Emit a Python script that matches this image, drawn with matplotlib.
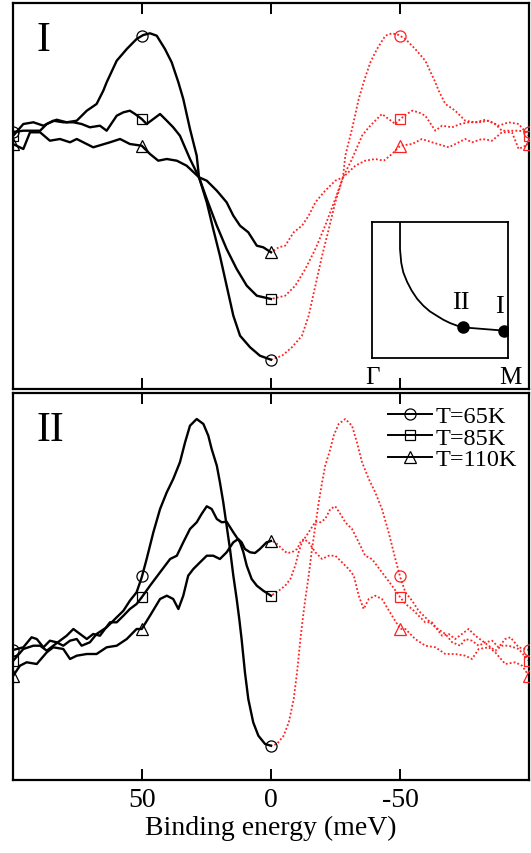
import numpy as np
import matplotlib
matplotlib.use("Agg")
import matplotlib.pyplot as plt
from matplotlib.lines import Line2D

plt.rcParams['font.family'] = ['Liberation Serif', 'DejaVu Serif']

# ---------------- data (binding energy in meV, intensity in arb. units) ----------------
# Panel I (antinodal point)
E_I_65 = [100, 96.0, 89.5, 86.9, 83.1, 79.2, 75.3, 71.4, 67.6, 65.0, 63.7, 59.8, 55.9, 52.1, 49.5,
          46.9, 44.3, 41.1, 38.5, 35.9, 34.0, 31.4, 28.8, 27.9, 24.9, 22.4, 19.8, 17.2, 14.6, 12.0,
          8.1, 4.3, 0]
I_I_65 = [257, 258.3, 258.3, 265, 269.3, 266.7, 268.3, 278.3, 285, 298.3, 306.7, 328.3, 340, 350, 354,
          355.7, 353.3, 340, 326.7, 306.7, 290, 260, 233.3, 211.7, 186.7, 160, 133.3, 103.3, 73.3, 53.3,
          41.7, 33.3, 29.3]

E_I_85 = [100, 96.0, 92.1, 88.2, 84.4, 80.5, 76.6, 73.4, 70.2, 66.3, 63.7, 59.8, 57.2, 54.7, 52.7,
          50.1, 48.2, 45.6, 43.0, 40.4, 37.9, 35.3, 31.4, 27.9, 24.9, 21.0, 17.2, 13.3, 9.4, 5.5, 0]
I_I_85 = [253, 265, 266.7, 263.3, 268.3, 266.7, 266.7, 265, 261.7, 263.3, 258.3, 273.3, 276.7, 278.3, 275,
          270, 265, 270, 275, 268.3, 261.7, 253.3, 230, 211.7, 190, 163.3, 140, 120, 103.3, 93.3, 90]

E_I_110 = [100, 96.0, 93.4, 89.5, 85.7, 81.8, 77.9, 75.3, 68.9, 62.4, 58.5, 54.7, 50.1, 46.9, 43.7,
           40.4, 36.5, 32.7, 27.9, 24.9, 21.0, 17.2, 14.6, 12.0, 8.8, 5.5, 3.0, 0]
I_I_110 = [245, 240, 256.7, 256.7, 248.3, 250, 246.7, 250, 241.7, 246.7, 250, 245, 243.3, 235, 228.3,
           230, 228.3, 223.3, 211.7, 208.3, 198.3, 186.7, 173.3, 163.3, 156.7, 143.3, 141.7, 136.7]

# Panel II
E_II_65 = [100, 96.0, 92.8, 90.8, 88.2, 85.7, 83.1, 80.5, 77.9, 75.3, 73.4, 70.2, 67.6, 63.7, 59.8,
           57.2, 54.7, 52.1, 50.1, 48.2, 45.6, 43.0, 40.4, 37.9, 35.3, 33.3, 31.4, 28.8, 26.2, 24.3,
           23.0, 21.0, 19.8, 18.5, 17.2, 15.9, 14.6, 13.3, 12.3, 11.4, 10.1, 8.8, 6.9, 4.9, 2.3, 0]
I_II_65 = [130, 132.7, 142.7, 141, 132.7, 139.3, 137.7, 134.3, 139.3, 141, 134.3, 137.7, 146, 152.7, 162.7,
           169.3, 179.3, 187.7, 202.7, 221, 247.7, 271, 287.7, 301, 317.7, 337.7, 354.3, 361, 356, 344.3,
           331, 314.3, 297.7, 277.7, 254.3, 231, 204.3, 181, 161, 141, 107.7, 81, 57.7, 44.3, 36, 34.3]

E_II_85 = [100, 96.0, 92.1, 89.5, 86.9, 84.4, 81.8, 79.2, 76.6, 74.0, 71.4, 68.9, 66.3, 62.4, 59.8,
           57.2, 54.7, 52.1, 50.1, 46.9, 43.0, 39.1, 36.5, 34.0, 31.4, 28.8, 26.9, 24.9, 23.0, 21.0,
           19.1, 17.2, 14.6, 12.0, 10.7, 9.4, 7.5, 5.5, 3.0, 0]
I_II_85 = [119, 131, 134.3, 134.3, 129.3, 134.3, 139.3, 144.3, 151, 146, 141, 146, 144.3, 157.7, 157.7,
           164.3, 171, 176, 182.7, 194.3, 207.7, 221, 224.3, 237.7, 251, 257.7, 266, 273.7, 271, 261,
           257.7, 258.3, 247.7, 237.7, 227.7, 214.3, 201, 194.3, 189.3, 184.3]

E_II_110 = [100, 97.3, 94.7, 90.8, 86.9, 84.4, 80.5, 77.9, 75.3, 71.4, 67.6, 63.7, 59.8, 55.9, 52.1,
            50.1, 46.9, 43.0, 40.4, 37.9, 35.9, 34.0, 32.1, 30.1, 27.5, 24.9, 22.4, 19.8, 17.2, 14.6,
            12.7, 11.4, 10.1, 8.1, 6.2, 4.3, 1.7, 0]
I_II_110 = [104, 114.3, 117.7, 116, 127.7, 132.7, 131, 121, 124.3, 126, 126, 132.7, 134.3, 141, 151,
            151, 164.3, 181, 184.3, 181, 171, 184.3, 204.3, 211, 217.7, 224.3, 224.3, 221, 227.7, 237.7,
            241, 237.7, 231, 227.7, 227, 231, 237.7, 239]

temps = ["T=65K", "T=85K", "T=110K"]
markers = ["o", "s", "^"]
marker_E = [100, 50, 0, -50, -100]
xticks = [50, 0, -50]
xticklabels = ["50", "0", "-50"]

# inset schematic Fermi surface (fraction of Gamma-M box)
fs_kx = [0.206, 0.206, 0.215, 0.230, 0.258, 0.292, 0.332, 0.377, 0.425, 0.476, 0.525, 0.574, 0.625,
         0.672, 0.973]
fs_ky = [1.000, 0.800, 0.700, 0.630, 0.560, 0.495, 0.435, 0.385, 0.343, 0.311, 0.281, 0.257, 0.238,
         0.225, 0.201]
pts_kx = [0.672, 0.973]
pts_ky = [0.225, 0.201]
pts_lab = ["II", "I"]
lab_kx = [0.654, 0.934]
lab_ky = [0.41, 0.38]

# ---------------- figure ----------------
W, H = 531, 854
fig = plt.figure(figsize=(W / 100, H / 100), dpi=100)

def fx(px):
    return px / W

def fy(py):
    return 1 - py / H

ax1 = fig.add_axes([fx(13), fy(390), fx(529) - fx(13), fy(4) - fy(390)])
ax2 = fig.add_axes([fx(13), fy(781), fx(529) - fx(13), fy(394) - fy(781)])

panels = [
    (ax1, [(E_I_65, I_I_65), (E_I_85, I_I_85), (E_I_110, I_I_110)], (0, 386), "I"),
    (ax2, [(E_II_65, I_II_65), (E_II_85, I_II_85), (E_II_110, I_II_110)], (0, 387), "II"),
]

for ax, series, ylim, lab in panels:
    for (E, I), m in zip(series, markers):
        E = np.asarray(E, float)
        I = np.asarray(I, float)
        ax.plot(E, I, color="black", lw=1.7, solid_joinstyle="round", zorder=3)
        ax.plot(-E, I, color="#ff2020", lw=1.3, linestyle=(0, (1, 1.2)), zorder=2)
        order = np.argsort(E)
        for xm in marker_E:
            ym = np.interp(abs(xm), E[order], I[order])
            col = "black" if xm >= 0 else "#ff2020"
            ax.plot([xm], [ym], marker=m, ms=8 if m != "s" else 7.5, mfc="none", mec=col,
                    mew=0.9, ls="none", zorder=4, clip_on=True)
    ax.set_xlim(100, -100)
    ax.set_ylim(*ylim)
    ax.set_yticks([])
    ax.set_xticks(xticks)
    ax.tick_params(axis="x", direction="in", length=8, width=1.4, top=True, bottom=True,
                   labelsize=20, pad=5)
    for s in ax.spines.values():
        s.set_linewidth(1.6)
    ax.text(0.045, 0.955, lab, transform=ax.transAxes, fontsize=30, va="top", ha="left")

ax1.set_xticklabels([])
ax2.set_xticklabels(xticklabels)
ax2.set_xlabel("Binding energy (meV)", fontsize=20, labelpad=2)

# legend
handles = [Line2D([], [], color="black", lw=1.4, marker=m, ms=8 if m != "s" else 7.5,
                  mfc="none", mec="black", mew=0.9) for m in markers]
ax2.legend(handles, temps, loc="upper right", bbox_to_anchor=(1.0, 1.0), frameon=False,
           fontsize=17.5, handlelength=1.8, handletextpad=0.15, labelspacing=-0.02,
           borderaxespad=0.3, borderpad=0.2)

# inset
axin = fig.add_axes([fx(372), fy(359), fx(508) - fx(372), fy(223) - fy(359)])
axin.plot(fs_kx, fs_ky, color="black", lw=1.3)
axin.plot(pts_kx, pts_ky, "o", color="black", ms=8)
for x, y, t in zip(lab_kx, lab_ky, pts_lab):
    axin.text(x, y, t, fontsize=19, ha="center", va="center")
axin.set_xlim(0, 1)
axin.set_ylim(0, 1)
axin.set_xticks([])
axin.set_yticks([])
for s in axin.spines.values():
    s.set_linewidth(1.3)
axin.text(0.0, -0.06, "Γ", transform=axin.transAxes, fontsize=18, ha="center", va="top")
axin.text(1.02, -0.06, "M", transform=axin.transAxes, fontsize=18, ha="center", va="top")

fig.savefig("out.png", dpi=100)
